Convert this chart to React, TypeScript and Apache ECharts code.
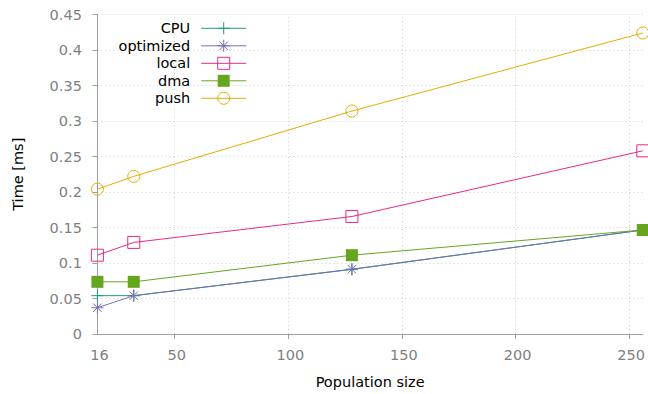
import React, { useEffect, useRef } from "react";
import * as echarts from "echarts";

const xValues = [16, 32, 128, 256];
const seriesNames = ["CPU", "optimized", "local", "dma", "push"];
const cpu = [0.054, 0.054, 0.091, 0.1465];
const optimized = [0.037, 0.054, 0.0913, 0.1465];
const local = [0.111, 0.129, 0.1655, 0.258];
const dma = [0.0735, 0.0735, 0.111, 0.1465];
const push = [0.204, 0.222, 0.314, 0.424];
const xTickLabels = [16, 50, 100, 150, 200, 250];
const xGridValues = [50, 100, 150, 200, 250];

const colors = ["#1b9e77", "#7570b3", "#e7298a", "#66a61e", "#e6ab02"];
const FONT = "DejaVu Sans";
const FS = 14.5;

const symbols = [
  "path://M0,6L12,6M6,0L6,12",
  "path://M0,6L12,6M6,0L6,12M1.8,1.8L10.2,10.2M1.8,10.2L10.2,1.8",
  "rect",
  "rect",
  "circle",
];

export default function App() {
  const ref = useRef<HTMLDivElement>(null);
  useEffect(() => {
    if (!ref.current) return;
    const chart = echarts.init(ref.current, null, { renderer: "svg" });
    const values = [cpu, optimized, local, dma, push];
    const series: any[] = seriesNames.map((name, i) => {
      const filled = i === 3;
      const s: any = {
        name,
        type: "line",
        data: xValues.map((x, j) => [x, values[i][j]]),
        symbol: symbols[i],
        symbolSize: 12,
        showAllSymbol: true,
        lineStyle: { color: colors[i], width: 1 },
        itemStyle: filled
          ? { color: colors[i], borderWidth: 0 }
          : { color: "rgba(0,0,0,0)", borderColor: colors[i], borderWidth: 1 },
        emphasis: { disabled: true },
      };
      if (i === 0) {
        s.markLine = {
          silent: true,
          symbol: "none",
          z: 1,
          label: { show: false },
          lineStyle: { color: "#cfcfcf", width: 1, type: [1, 3] },
          data: xGridValues.map((v) => ({ xAxis: v })),
        };
      }
      return s;
    });
    chart.setOption({
      animation: false,
      textStyle: { fontFamily: FONT },
      grid: { left: 97.4, right: 2.6, top: 14.5, bottom: 59 },
      legend: {
        orient: "vertical",
        right: 401.3,
        top: 20.8,
        padding: 0,
        align: "right",
        itemWidth: 45,
        itemHeight: 15,
        itemGap: 2.5,
        lineStyle: { width: 1 },
        itemStyle: { borderWidth: 1 },
        textStyle: { fontFamily: FONT, fontSize: FS, color: "#000", padding: [0, 6, 0, 0] },
        data: seriesNames,
      },
      xAxis: {
        type: "value",
        min: 16,
        max: 256,
        name: "Population size",
        nameLocation: "middle",
        nameGap: 40,
        nameTextStyle: { fontFamily: FONT, fontSize: FS, color: "#000" },
        axisLine: { show: true, lineStyle: { color: "#a0a0a0", width: 1 } },
        axisTick: { show: true, length: 5, customValues: xGridValues, lineStyle: { color: "#a0a0a0" } },
        axisLabel: {
          customValues: xTickLabels,
          margin: 13,
          color: "#808080",
          fontFamily: FONT,
          fontSize: FS,
          padding: [0, 0, 0, 4],
        },
        splitLine: { show: false },
      },
      yAxis: {
        type: "value",
        min: 0,
        max: 0.45,
        interval: 0.05,
        name: "Time [ms]",
        nameLocation: "middle",
        nameGap: 72,
        nameTextStyle: { fontFamily: FONT, fontSize: FS, color: "#000" },
        axisLine: { show: true, lineStyle: { color: "#a0a0a0", width: 1 } },
        axisTick: { show: true, length: 5, lineStyle: { color: "#a0a0a0" } },
        axisLabel: { margin: 15.5, color: "#808080", fontFamily: FONT, fontSize: FS },
        splitLine: { show: true, lineStyle: { color: "#cfcfcf", width: 1, type: [1, 3] } },
      },
      series,
    });
    return () => chart.dispose();
  }, []);
  return (
    <div
      ref={ref}
      style={{ position: "absolute", left: 0, top: 0, width: 648, height: 394 }}
    />
  );
}
